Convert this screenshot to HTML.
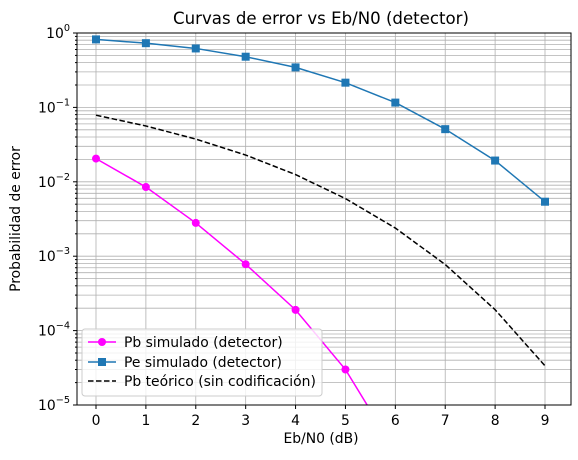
<!DOCTYPE html>
<html><head><meta charset="utf-8"><style>
body{margin:0;background:#fff;}
svg text{font-family:"DejaVu Sans","Liberation Sans",sans-serif;}
</style></head><body>
<svg id="chart" width="578" height="455" xmlns="http://www.w3.org/2000/svg">
<defs><clipPath id="clip"><rect x="77" y="33" width="494" height="372"/></clipPath></defs>
<rect width="578" height="455" fill="#fff"/>
<g id="grid"></g>
<g id="series" clip-path="url(#clip)"></g>
<rect x="77" y="33" width="494" height="372" fill="none" stroke="#000" stroke-width="1"/>
<g id="axes"></g>
<text x="321" y="24" text-anchor="middle" font-size="16.6">Curvas de error vs Eb/N0 (detector)</text>
<text x="321" y="443" text-anchor="middle" font-size="13.9">Eb/N0 (dB)</text>
<text transform="translate(20,219) rotate(-90)" text-anchor="middle" font-size="13.9">Probabilidad de error</text>
<g>
<rect x="82" y="329" width="240" height="67" rx="3" fill="#fff" fill-opacity="0.8" stroke="#ccc"/>
<g><line x1="88" y1="342" x2="116" y2="342" stroke="#ff00ff" stroke-width="1.5"/><circle cx="102" cy="342" r="4" fill="#ff00ff"/><text x="124" y="347" font-size="13.9">Pb simulado (detector)</text></g>
<g><line x1="88" y1="362" x2="116" y2="362" stroke="#1f77b4" stroke-width="1.5"/><rect x="98" y="358" width="8" height="8" fill="#1f77b4"/><text x="124" y="367" font-size="13.9">Pe simulado (detector)</text></g>
<g><line x1="88" y1="381" x2="116" y2="381" stroke="#000" stroke-width="1.5" stroke-dasharray="5.5,2.5"/><text x="124" y="386" font-size="13.9">Pb teórico (sin codificación)</text></g>
</g>
</svg>
<script>
const ebn0 = [0,1,2,3,4,5,6,7,8,9];
const pbSim = [0.0205,0.0085,0.0028,0.00078,0.00019,0.00003,0.0000024];
const peSim = [0.82,0.73,0.62,0.48,0.345,0.215,0.116,0.051,0.0193,0.0054];
const pbTheory = [0.0786,0.0563,0.0375,0.0229,0.0125,0.00595,0.00239,0.000773,0.000191,0.0000336];
const xTicks = [0,1,2,3,4,5,6,7,8,9];
const yTickExps = [0,-1,-2,-3,-4,-5];
const NS="http://www.w3.org/2000/svg";
const X0=77,X1=571,Y0=33,Y1=405;
function xs(v){return 96+(v-0)*(545-96)/9;}
function ys(v){return Y0+(0-Math.log10(v))*(Y1-Y0)/5;}
function mk(tag,attrs,parent){const e=document.createElementNS(NS,tag);for(const k in attrs)e.setAttribute(k,attrs[k]);parent.appendChild(e);return e;}
const grid=document.getElementById('grid'),axes=document.getElementById('axes'),ser=document.getElementById('series');
for(const t of xTicks){
  const l=mk('line',{x1:xs(t),x2:xs(t),y1:Y0,y2:Y1,stroke:'#b0b0b0','stroke-width':0.8},grid);
  
  
  const tk=mk('line',{x1:xs(t),x2:xs(t),y1:Y1,y2:Y1+4,stroke:'#000'},axes);
  
  
  const tx=mk('text',{x:xs(t),y:Y1+20,'text-anchor':'middle','font-size':13.9},axes);
  tx.textContent=t;
  
  
}
for(const e of yTickExps){
  const y=ys(Math.pow(10,e));
  const l=mk('line',{x1:X0,x2:X1,y1:y,y2:y,stroke:'#b0b0b0','stroke-width':0.8},grid);
  
  
  const tk=mk('line',{x1:X0-4,x2:X0,y1:y,y2:y,stroke:'#000'},axes);
  
  
  const tx=mk('text',{x:X0-7,y:y+5,'text-anchor':'end','font-size':13.9},axes);
  tx.innerHTML='10<tspan dy="-7" font-size="9.7">'+(e<0?'\u2212'+(-e):e)+'</tspan>';
  
  
  if(e>-5){for(let m=2;m<=9;m++){
    const ym=ys(m*Math.pow(10,e-1));
    const g=mk('line',{x1:X0,x2:X1,y1:ym,y2:ym,stroke:'#b0b0b0','stroke-width':0.8},grid);
    
    
    const mt=mk('line',{x1:X0-2,x2:X0,y1:ym,y2:ym,stroke:'#000'},axes);
    
    
  }}
}
function pts(arr){return arr.map((v,i)=>xs(ebn0[i])+','+ys(v)).join(' ');}
const th=mk('polyline',{points:pts(pbTheory),fill:'none',stroke:'#000','stroke-width':1.5,'stroke-dasharray':'5.5,2.5'},ser);


const pe=mk('polyline',{points:pts(peSim),fill:'none',stroke:'#1f77b4','stroke-width':1.5},ser);


peSim.forEach((v,i)=>{const r=mk('rect',{x:xs(ebn0[i])-4,y:ys(v)-4,width:8,height:8,fill:'#1f77b4'},ser);
  
  });
const pb=mk('polyline',{points:pts(pbSim),fill:'none',stroke:'#ff00ff','stroke-width':1.5},ser);


pbSim.forEach((v,i)=>{const c=mk('circle',{cx:xs(ebn0[i]),cy:ys(v),r:4,fill:'#ff00ff'},ser);
  
  });
</script>
</body></html>
